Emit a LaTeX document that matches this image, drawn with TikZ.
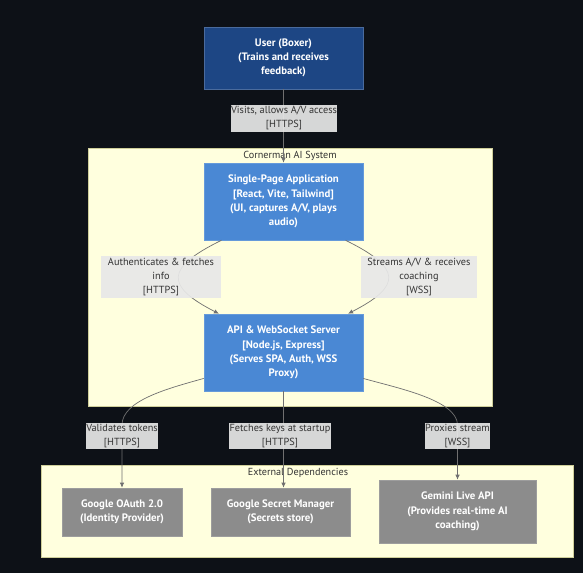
\documentclass[tikz,border=0pt]{standalone}
\usepackage{fontspec}
\setmainfont{PT Sans}
\usepackage{xcolor}
\usepackage{tikz}
\usetikzlibrary{
  arrows.meta,
  positioning
}
\definecolor{PageDark}{HTML}{0D1117}
\definecolor{UserBlue}{HTML}{1D4684}
\definecolor{AppBlue}{HTML}{4A88D4}
\definecolor{ExtGray}{HTML}{8C8C8C}
\definecolor{ClusterYellow}{HTML}{FFFFDE}
\definecolor{ClusterBorder}{HTML}{CFCF9A}
\definecolor{LabelGray}{HTML}{E8E8E8}
\definecolor{EdgeGray}{HTML}{707070}
\definecolor{TextDark}{HTML}{333333}
\tikzset{
  box/.style={
    draw,
    line width=0.6pt,
    inner sep=0pt,
    align=center,
    text=white,
    font=\bfseries\fontsize{10.8}{14.3}\selectfont
  },
  person/.style={
    box,
    fill=UserBlue,
    draw=UserBlue!80!white
  },
  container/.style={
    box,
    fill=AppBlue,
    draw=AppBlue!85!white
  },
  external/.style={
    box,
    fill=ExtGray,
    draw=ExtGray!85!white
  },
  cluster/.style={
    draw=ClusterBorder,
    fill=ClusterYellow,
    line width=0.6pt
  },
  clustertitle/.style={
    text=TextDark,
    inner sep=0pt,
    font=\fontsize{10.2}{14}\selectfont
  },
  edgelabel/.style={
    fill=LabelGray,
    fill opacity=0.92,
    text opacity=1,
    text=TextDark,
    align=center,
    inner xsep=0.5pt,
    inner ysep=1.5pt,
    font=\fontsize{10.3}{14.3}\selectfont
  },
  connection/.style={
    -{Latex[length=5pt,width=4.5pt]},
    draw=EdgeGray,
    line width=0.7pt
  }
}
\begin{document}
\begin{tikzpicture}[x=1pt,y=-1pt]

  \fill[PageDark] (0,0) rectangle (583,573);

  % clusters
  \draw[cluster] (88,148) rectangle (492,406);
  \node[clustertitle] at (290,156) (systemtitle) {Cornerman AI System};

  \draw[cluster] (41,465) rectangle (573,557);
  \node[clustertitle] at (298,473) (deptitle) {External Dependencies};

  % main boxes
  \node[
    person,
    minimum width=159,
    minimum height=62
  ] at (283.5,58) (user) {
    User (Boxer)\\
    (Trains and receives\\
    feedback)
  };

  \node[
    container,
    minimum width=159,
    minimum height=77
  ] at (283.5,201.5) (spa) {
    Single-Page Application\\
    {[}React, Vite, Tailwind{]}\\
    (UI, captures A/V, plays\\
    audio)
  };

  \node[
    container,
    minimum width=159,
    minimum height=77
  ] at (283.5,352.5) (api) {
    API \& WebSocket Server\\
    {[}Node.js, Express{]}\\
    (Serves SPA, Auth, WSS\\
    Proxy)
  };

  \node[
    external,
    minimum width=120,
    minimum height=48
  ] at (122,512) (oauth) {
    Google OAuth 2.0\\
    (Identity Provider)
  };

  \node[
    external,
    minimum width=139,
    minimum height=48
  ] at (280.5,512) (secrets) {
    Google Secret Manager\\
    (Secrets store)
  };

  \node[
    external,
    minimum width=157,
    minimum height=63
  ] at (457.5,511.5) (gemini) {
    Gemini Live API\\
    (Provides real-time AI\\
    coaching)
  };

  % bends of the lower connectors
  \coordinate (oauthbend) at (122,425);
  \coordinate (geminibend) at (457.5,425);

  % connectors
  \draw[connection]
  (user.south) --
  (spa.north);

  \draw[connection]
  (spa.-148) .. controls (165,268) and (165,286) ..
  (api.149);

  \draw[connection]
  (spa.-32) .. controls (402,268) and (402,286) ..
  (api.31);

  \draw[connection]
  (api.-162) .. controls (170,388) and (122,400) ..
  (oauthbend) --
  (oauth.north);

  \draw[connection]
  (api.south) --
  (api.south |- secrets.north);

  \draw[connection]
  (api.-18) .. controls (397,388) and (457.5,400) ..
  (geminibend) --
  (gemini.north);

  % connector labels
  \node[edgelabel] at (284,118) (visitlabel) {
    Visits, allows A/V access\\
    {[}HTTPS{]}
  };

  \node[edgelabel] at (161,277) (authlabel) {
    \hspace*{6pt}Authenticates \& fetches\hspace*{6pt}\\
    info\\
    {[}HTTPS{]}
  };

  \node[edgelabel] at (419,277) (streamlabel) {
    \hspace*{6pt}Streams A/V \& receives\hspace*{6pt}\\
    coaching\\
    {[}WSS{]}
  };

  \node[edgelabel] at (122,436) (tokenlabel) {
    Validates tokens\\
    {[}HTTPS{]}
  };

  \node[edgelabel] at (280,436) (keylabel) {
    Fetches keys at startup\\
    {[}HTTPS{]}
  };

  \node[edgelabel] at (457.5,436) (proxylabel) {
    Proxies stream\\
    {[}WSS{]}
  };

\end{tikzpicture}
\end{document}
